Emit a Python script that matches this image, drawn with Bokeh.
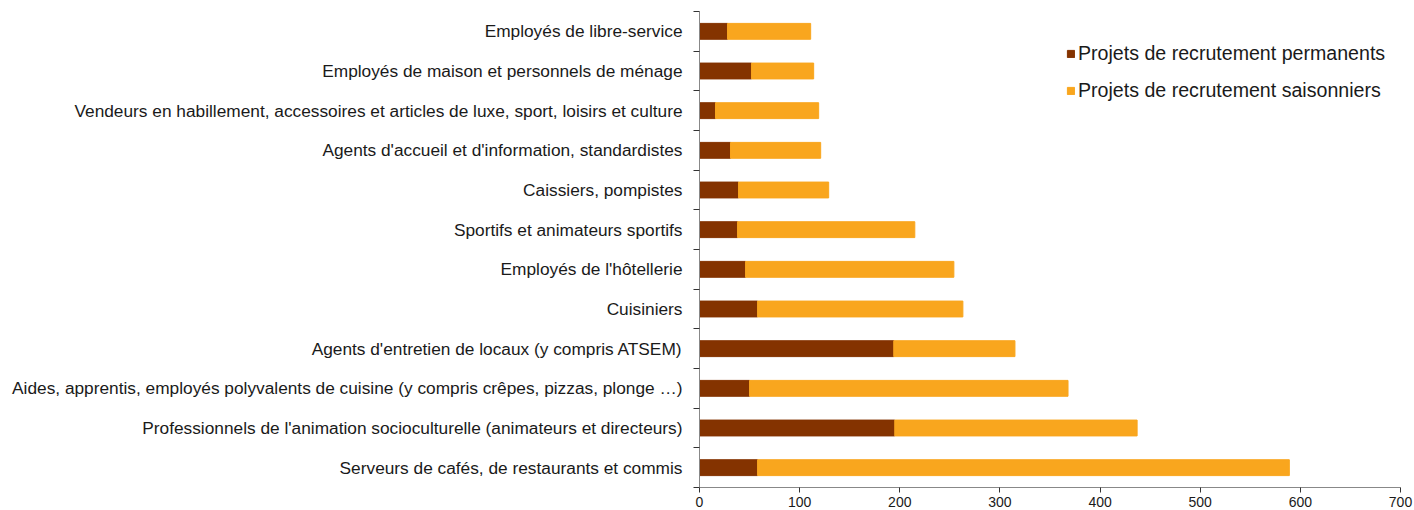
from bokeh.plotting import figure
from bokeh.models import ColumnDataSource, Range1d, FixedTicker, Legend
from bokeh.embed import file_html
from bokeh.resources import INLINE

categories = [
    "Serveurs de cafés, de restaurants et commis",
    "Professionnels de l'animation socioculturelle (animateurs et directeurs)",
    "Aides, apprentis, employés polyvalents de cuisine (y compris crêpes, pizzas, plonge …)",
    "Agents d'entretien de locaux (y compris ATSEM)",
    "Cuisiniers",
    "Employés de l'hôtellerie",
    "Sportifs et animateurs sportifs",
    "Caissiers, pompistes",
    "Agents d'accueil et d'information, standardistes",
    "Vendeurs en habillement, accessoires et articles de luxe, sport, loisirs et culture",
    "Employés de maison et personnels de ménage",
    "Employés de libre-service",
]
permanents = [58, 195, 50, 194, 58, 46, 38, 39, 31, 16, 52, 28]
saisonniers = [531, 242, 318, 121, 205, 208, 177, 90, 90, 103, 62, 83]
series_labels = ["Projets de recrutement permanents", "Projets de recrutement saisonniers"]
x_ticks = [0, 100, 200, 300, 400, 500, 600, 700]

DARK = "#843300"
ORANGE = "#F9A61E"
FONT = "Liberation Sans"
TXT = "#1a1a1a"

idx = list(range(len(categories)))
source = ColumnDataSource(dict(y=idx, perm=permanents, sais=saisonniers))

p = figure(width=1414, height=510, output_backend="svg", toolbar_location=None,
           x_range=Range1d(0, 700), y_range=Range1d(-0.5, len(categories) - 0.5),
           min_border_left=699, min_border_right=14, min_border_top=11, min_border_bottom=23)

renderers = p.hbar_stack(["perm", "sais"], y="y", height=0.4, color=[DARK, ORANGE],
                         source=source)

p.outline_line_color = None
p.xgrid.grid_line_color = None
p.ygrid.grid_line_color = None
p.background_fill_color = None
p.border_fill_color = None

# x axis
xa = p.xaxis[0]
xa.ticker = FixedTicker(ticks=x_ticks)
xa.axis_line_color = "#888888"
xa.major_tick_line_color = "#333333"
xa.major_tick_out = 5
xa.major_tick_in = 0
xa.minor_tick_line_color = None
xa.major_label_text_font = FONT
xa.major_label_text_font_size = "14px"
xa.major_label_text_color = TXT
xa.major_label_standoff = 4

# y axis: labels at centers, ticks at band boundaries
ya = p.yaxis[0]
ya.ticker = FixedTicker(ticks=idx, minor_ticks=[i - 0.5 for i in range(len(categories) + 1)])
ya.major_label_overrides = {i: c for i, c in enumerate(categories)}
ya.axis_line_color = "#888888"
ya.major_tick_line_color = None
ya.major_tick_out = 0
ya.major_tick_in = 0
ya.minor_tick_line_color = "#333333"
ya.minor_tick_out = 6
ya.minor_tick_in = 0
ya.major_label_text_font = FONT
ya.major_label_text_font_size = "17.3px"
ya.major_label_text_color = TXT
ya.major_label_standoff = 11

legend = Legend(items=[(series_labels[0], [renderers[0]]), (series_labels[1], [renderers[1]])],
                location=(367, 385), orientation="vertical")
legend.border_line_color = None
legend.background_fill_alpha = 0
legend.padding = 0
legend.margin = 0
legend.spacing = 14
legend.glyph_width = 9
legend.glyph_height = 9
legend.label_standoff = 3
legend.label_text_font = FONT
legend.label_text_font_size = "19.6px"
legend.label_text_color = TXT
legend.label_height = 22
p.add_layout(legend)

open("out.html", "w").write(file_html(p, INLINE))
